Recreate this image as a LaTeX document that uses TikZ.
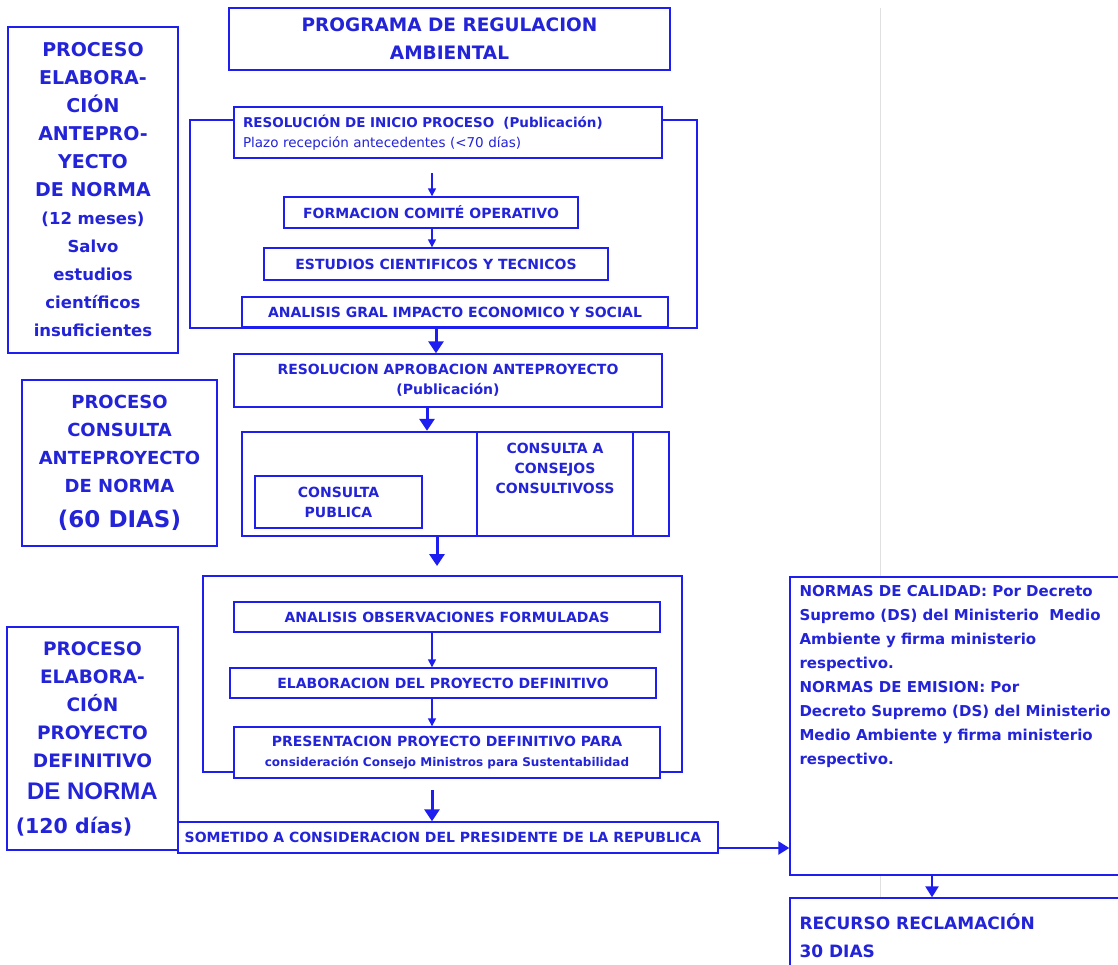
\documentclass[tikz,border=0pt]{standalone}
\usepackage{fontspec}
\setmainfont{DejaVu Sans}
\newfontfamily\arialf{Liberation Sans}
\usetikzlibrary{arrows.meta}

\definecolor{trazo}{RGB}{30,30,240}
\definecolor{tinta}{RGB}{35,35,215}
\newcommand{\tam}[2]{\fontsize{#1}{#2}\selectfont}

\tikzset{
	medida/.style 2 args={minimum width=#1pt, minimum height=#2pt},
	caja/.style={draw=trazo, fill=white, line width=1.4pt, inner sep=0pt, text=tinta, align=center, font=\bfseries\tam{14}{20}},
	proceso/.style={caja, font=\bfseries\tam{19}{28}},
	marco/.style={draw=trazo, line width=2.4pt, inner sep=0pt},
	texto/.style={inner sep=0pt, text=tinta, align=left, font=\bfseries\tam{15}{24}},
	flecha/.style={draw=trazo, line width=1.4pt, -{Triangle[length=8pt,width=8pt]}},
	flechamedia/.style={draw=trazo, line width=2.4pt, -{Triangle[length=11pt,width=13pt]}},
	flechagruesa/.style={draw=trazo, line width=3pt, -{Triangle[length=12pt,width=15pt]}}
}

\begin{document}
\begin{tikzpicture}[x=1pt, y=-1pt]
	\useasboundingbox (0,0) rectangle (1118,964);
	\clip (0,0) rectangle (1118,964);
	\fill[white] (0,0) rectangle (1118,964);
	\draw[black!12, line width=1pt] (880,8) -- (880,964);

	% columna izquierda
	\node[proceso, medida={170}{326}] (procA) at (93,190) {PROCESO\\ELABORA-\\CIÓN\\ANTEPRO-\\YECTO\\DE NORMA\\{\tam{16.5}{28}(12 meses)}\\{\tam{16.5}{28}Salvo}\\{\tam{16.5}{28}estudios}\\{\tam{16.5}{28}científicos}\\{\tam{16.5}{28}insuficientes}};
	\node[proceso, medida={195}{166}, font=\bfseries\tam{18}{28}] (procB) at (119.5,463) {PROCESO\\CONSULTA\\ANTEPROYECTO\\DE NORMA\\[7pt]{\tam{23}{28}(60 DIAS)}};
	\node[proceso, medida={171}{223}, font=\bfseries\tam{18.5}{28}] (procC) at (92.5,738.5) {PROCESO\\ELABORA-\\CIÓN\\PROYECTO\\DEFINITIVO\\[4pt]{\arialf\tam{24}{28}DE NORMA}\\[6pt]\hspace*{-37pt}{\tam{20.5}{28}(120 días)}};

	% programa
	\node[caja, medida={441}{62}, font=\bfseries\tam{18.5}{28}] (titulo) at (449.5,39) {PROGRAMA DE REGULACION\\AMBIENTAL};

	\node[marco, medida={507}{208}] (marcoA) at (443.5,224) {};
	\node[caja, medida={428}{51}, text width=410pt, align=left, font=\tam{13.5}{20}] (inicio) at (448,132.5) {\textbf{RESOLUCIÓN DE INICIO PROCESO\ \ (Publicación)}\\Plazo recepción antecedentes (<70 días)};
	\node[caja, medida={294}{31}] (comite) at (431,212.5) {FORMACION COMITÉ OPERATIVO};
	\node[caja, medida={344}{32}] (estudios) at (436,264) {ESTUDIOS CIENTIFICOS Y TECNICOS};
	\node[caja, medida={426}{30}] (impacto) at (455,312) {ANALISIS GRAL IMPACTO ECONOMICO Y SOCIAL};

	\node[caja, medida={428}{53}] (aprob) at (448,380.5) {RESOLUCION APROBACION ANTEPROYECTO\\(Publicación)};

	\node[marco, medida={427}{104}] (marcoB) at (455.5,484) {};
	\coordinate (corte1) at (477,0);
	\coordinate (corte2) at (633,0);
	\draw[trazo, line width=1.6pt] (marcoB.north -| corte1) -- (marcoB.south -| corte1);
	\draw[trazo, line width=1.6pt] (marcoB.north -| corte2) -- (marcoB.south -| corte2);
	\node[texto, align=center, font=\bfseries\tam{14}{20}] (consejos) at (555,468) {CONSULTA A\\CONSEJOS\\CONSULTIVOSS};
	\node[caja, medida={167}{52}] (publica) at (338.5,502) {CONSULTA\\PUBLICA};

	\node[marco, medida={479}{196}] (marcoC) at (442.5,674) {};
	\node[caja, medida={426}{30}] (observ) at (447,617) {ANALISIS OBSERVACIONES FORMULADAS};
	\node[caja, medida={426}{30}] (elab) at (443,683) {ELABORACION DEL PROYECTO DEFINITIVO};
	\node[caja, medida={426}{51}] (present) at (447,752.5) {PRESENTACION PROYECTO DEFINITIVO PARA\\{\tam{12}{20}consideración Consejo Ministros para Sustentabilidad}};

	\node[caja, medida={540}{31}] (sometido) at (448,837.5) {SOMETIDO A CONSIDERACION DEL PRESIDENTE DE LA REPUBLICA\hspace*{10pt}};

	% decretos
	\node[caja, medida={340}{298}] (normas) at (960,726) {};
	\node[texto, anchor=north west] (normastxt) at ([xshift=10pt,yshift=-9pt]normas.north west) {NORMAS DE CALIDAD: Por Decreto\\Supremo (DS) del Ministerio\ \ Medio\\Ambiente y firma ministerio\\respectivo.\\NORMAS DE EMISION: Por\\Decreto Supremo (DS) del Ministerio\\Medio Ambiente y firma ministerio\\respectivo.};
	\node[caja, medida={340}{82}] (recurso) at (960,939) {};
	\node[texto, anchor=north west, font=\bfseries\tam{17}{28}] (recursotxt) at ([xshift=10pt,yshift=-16pt]recurso.north west) {RECURSO RECLAMACIÓN\\30 DIAS};

	% flechas
	\coordinate (eje1) at (432,0);
	\coordinate (eje2) at (436,0);
	\coordinate (eje3) at (427,0);
	\coordinate (eje5) at (932,0);
	\coordinate (arranque) at (432,173);
	\coordinate (llegadaC) at (437,566);
	\coordinate (salidaP) at (432,790);
	\coordinate (salidaS) at (718,848);
	\draw[flecha] (arranque) -- (arranque |- comite.north);
	\draw[flecha] (comite.south -| eje1) -- (estudios.north -| eje1);
	\draw[flechagruesa] (marcoA.south -| eje2) -- (aprob.north -| eje2);
	\draw[flechagruesa] (aprob.south -| eje3) -- (marcoB.north -| eje3);
	\draw[flechagruesa] (llegadaC |- marcoB.south) -- (llegadaC);
	\draw[flecha] (observ.south -| eje1) -- (elab.north -| eje1);
	\draw[flecha] (elab.south -| eje1) -- (present.north -| eje1);
	\draw[flechagruesa] (salidaP) -- (salidaP |- sometido.north);
	\draw[flechamedia] (salidaS) -- (salidaS -| normas.west);
	\draw[flechamedia] (normas.south -| eje5) -- (recurso.north -| eje5);
\end{tikzpicture}
\end{document}
